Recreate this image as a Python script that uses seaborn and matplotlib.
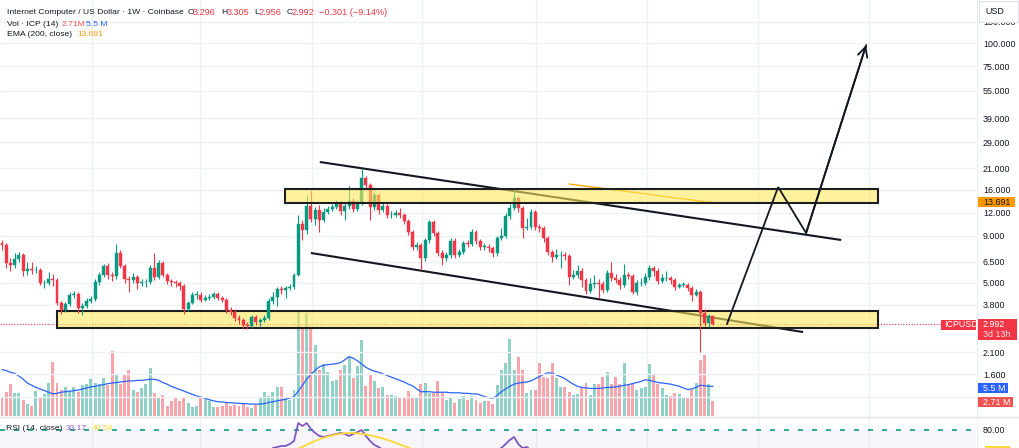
import matplotlib
matplotlib.use("Agg")
import matplotlib.pyplot as plt
import matplotlib.ticker as mticker
from matplotlib.patches import Rectangle
from matplotlib.lines import Line2D
import numpy as np
import pandas as pd
import seaborn as sns

# ICP / USD weekly candles (Coinbase), oldest first
first_open = 8.24
closes = [
    8.03, 6.42, 6.26, 6.75, 7.09, 5.81, 5.96, 5.88, 5.88, 5.00,
    5.00, 5.26, 5.19, 3.89, 3.57, 3.85, 4.31, 4.36, 3.66, 3.75,
    3.99, 4.10, 5.06, 5.53, 6.18, 5.53, 5.46, 7.27, 6.18, 5.26,
    5.19, 5.39, 5.00, 5.06, 5.06, 6.03, 5.39, 6.42, 5.53, 5.13,
    5.06, 5.00, 4.82, 3.61, 3.89, 4.31, 4.31, 4.04, 4.15, 4.20,
    4.36, 4.15, 4.04, 3.57, 3.48, 3.23, 3.15, 2.96, 2.92, 3.27,
    3.07, 3.15, 3.23, 3.99, 4.20, 4.64, 4.58, 4.70, 4.76, 5.53,
    10.44, 9.69, 13.07, 11.11, 12.43, 10.97, 12.13, 12.59, 12.91, 13.57,
    12.28, 13.07, 13.91, 12.59, 13.57, 18.53, 16.98, 12.91, 14.99, 12.43,
    13.07, 11.68, 11.68, 11.98, 11.68, 10.84, 9.45, 7.84, 8.03, 6.83,
    8.55, 10.70, 9.33, 7.27, 6.83, 7.09, 8.44, 7.09, 7.36, 8.24,
    8.13, 9.45, 8.44, 7.84, 7.84, 7.74, 7.27, 8.77, 8.99, 11.54,
    12.75, 14.44, 12.75, 9.93, 10.06, 12.13, 10.06, 9.93, 8.77, 7.36,
    6.92, 7.09, 7.09, 7.00, 5.39, 5.53, 5.81, 5.19, 4.53, 4.94,
    5.00, 4.94, 4.58, 5.67, 5.32, 5.19, 4.88, 5.53, 5.46, 4.47,
    5.00, 5.00, 5.39, 6.03, 5.81, 5.13, 5.32, 5.32, 5.19, 4.76,
    4.88, 4.88, 4.70, 4.31, 4.47, 3.44, 3.03, 3.296, 2.992,
]
highs = [
    8.55, 8.24, 6.83, 7.27, 7.36, 7.27, 6.50, 6.50, 6.18, 6.03,
    5.19, 5.74, 5.60, 5.32, 3.99, 3.94, 4.47, 4.53, 4.47, 3.89,
    4.15, 4.25, 5.26, 5.74, 6.34, 6.42, 5.74, 8.13, 7.55, 6.34,
    5.46, 5.67, 5.53, 5.26, 5.26, 6.26, 7.27, 6.66, 6.58, 5.67,
    5.26, 5.19, 5.13, 4.94, 3.99, 4.47, 4.53, 4.47, 4.31, 4.36,
    4.47, 4.47, 4.25, 4.15, 3.70, 3.61, 3.35, 3.23, 3.07, 3.35,
    3.35, 3.23, 3.35, 4.15, 4.47, 4.76, 4.82, 4.82, 4.94, 5.67,
    11.68, 10.97, 14.99, 15.96, 12.91, 13.23, 12.75, 13.07, 13.40, 14.09,
    13.91, 13.57, 16.77, 14.44, 14.09, 20.74, 19.00, 17.41, 15.56, 15.37,
    13.57, 13.40, 12.28, 12.43, 12.75, 11.98, 11.11, 9.69, 8.34, 8.24,
    8.77, 10.97, 10.97, 9.57, 7.55, 7.36, 8.77, 8.77, 7.64, 8.44,
    8.55, 9.81, 9.69, 8.66, 8.24, 8.13, 7.93, 8.99, 9.93, 11.98,
    13.40, 16.16, 14.81, 13.07, 11.25, 12.59, 12.43, 10.44, 10.18, 8.99,
    7.55, 7.64, 7.45, 7.36, 7.18, 5.88, 6.26, 6.03, 5.32, 5.32,
    5.53, 5.26, 5.13, 5.88, 6.50, 5.60, 5.39, 6.34, 5.74, 5.60,
    5.19, 5.32, 5.67, 6.26, 6.18, 6.03, 5.60, 5.81, 5.46, 5.32,
    5.00, 5.06, 5.00, 4.82, 4.64, 4.58, 3.61, 3.39, 3.305,
]
lows = [
    7.55, 6.03, 5.81, 6.03, 6.50, 5.46, 5.53, 5.60, 5.67, 4.88,
    4.70, 4.88, 4.82, 3.80, 3.39, 3.48, 3.75, 4.15, 3.44, 3.35,
    3.66, 3.89, 3.99, 4.88, 5.39, 5.26, 5.13, 5.26, 6.03, 5.00,
    4.47, 5.00, 4.64, 4.82, 4.76, 4.94, 5.19, 5.26, 5.39, 4.94,
    4.82, 4.76, 4.58, 3.39, 3.52, 3.85, 4.10, 3.94, 3.99, 4.04,
    4.10, 4.04, 3.94, 3.44, 3.35, 3.11, 2.99, 2.85, 2.81, 2.85,
    2.96, 2.88, 3.07, 3.15, 3.85, 3.75, 4.36, 4.15, 4.58, 4.64,
    5.46, 8.55, 9.22, 10.70, 10.31, 9.45, 10.70, 11.83, 12.28, 12.59,
    11.68, 10.97, 12.59, 12.13, 12.28, 13.23, 15.96, 10.97, 12.43, 11.83,
    12.13, 11.25, 11.25, 11.39, 11.25, 10.44, 9.10, 7.55, 7.55, 5.88,
    6.58, 8.24, 8.99, 7.00, 6.26, 6.58, 6.83, 6.83, 6.92, 7.18,
    7.84, 7.93, 8.13, 7.55, 7.55, 7.36, 6.92, 7.00, 8.55, 8.77,
    11.11, 12.43, 12.13, 8.77, 9.69, 9.81, 9.69, 9.45, 8.34, 7.09,
    6.50, 6.75, 6.03, 6.66, 4.88, 5.26, 5.32, 4.76, 4.36, 4.42,
    4.70, 4.15, 4.42, 4.47, 5.13, 5.00, 4.64, 4.76, 5.26, 4.36,
    4.31, 4.82, 4.88, 5.19, 5.46, 4.94, 5.00, 5.13, 4.94, 4.58,
    4.70, 4.76, 4.53, 3.99, 4.25, 2.10, 2.92, 2.88, 2.956,
]
# weekly volume, millions ICP
volumes = [
    3.6, 4.5, 6.0, 4.2, 4.3, 3.0, 2.2, 1.9, 4.7, 3.3,
    4.1, 6.2, 10.0, 6.2, 4.8, 5.4, 4.7, 5.3, 4.5, 5.7,
    6.0, 6.8, 6.2, 6.0, 7.0, 5.7, 12.0, 7.6, 5.9, 7.6,
    8.6, 4.8, 4.5, 5.1, 6.0, 8.8, 4.2, 3.6, 3.9, 1.9,
    2.7, 3.6, 2.7, 3.3, 2.5, 1.6, 1.9, 3.6, 3.3, 2.7,
    1.6, 1.6, 1.9, 2.5, 1.9, 2.0, 1.9, 2.2, 1.6, 1.4,
    2.0, 3.3, 4.4, 3.7, 4.5, 5.4, 5.3, 3.3, 3.0, 4.8,
    19.3, 16.5, 19.0, 16.5, 13.1, 8.5, 9.6, 8.2, 6.5, 6.7,
    8.5, 9.4, 11.0, 7.0, 9.3, 14.0, 5.6, 7.6, 6.4, 5.1,
    5.4, 3.9, 3.9, 3.7, 3.6, 3.6, 4.7, 3.6, 3.3, 6.0,
    6.2, 4.2, 4.2, 6.4, 4.2, 3.0, 3.3, 2.5, 3.1, 3.7,
    3.0, 3.7, 3.0, 2.5, 2.7, 2.8, 2.3, 5.7, 8.5, 9.8,
    14.2, 8.5, 11.0, 8.6, 4.2, 4.9, 4.8, 9.8, 7.3, 7.0,
    9.8, 7.0, 5.3, 5.4, 4.5, 3.9, 4.1, 5.1, 6.2, 3.9,
    6.0, 5.9, 7.3, 8.2, 6.0, 7.3, 6.0, 9.9, 5.7, 6.2,
    4.8, 5.1, 5.3, 9.6, 7.6, 5.9, 5.1, 3.9, 3.7, 4.2,
    4.1, 3.3, 3.3, 4.8, 6.2, 10.4, 11.3, 5.9, 2.71,
]
vol_ma = [
    8.6, 8.4, 8.1, 7.9, 7.4, 6.8, 6.1, 5.7, 5.3, 5.0,
    4.7, 4.4, 4.1, 4.2, 4.4, 4.5, 4.6, 4.7, 4.8, 5.0,
    5.2, 5.4, 5.5, 5.7, 5.8, 6.0, 6.1, 6.2, 6.3, 6.4,
    6.5, 6.5, 6.6, 6.6, 6.7, 6.8, 6.8, 6.6, 6.2, 5.9,
    5.5, 5.2, 4.9, 4.6, 4.3, 4.0, 3.7, 3.5, 3.3, 3.0,
    2.8, 2.65, 2.6, 2.5, 2.45, 2.4, 2.35, 2.3, 2.25, 2.2,
    2.2, 2.2, 2.3, 2.5, 2.65, 2.8, 2.95, 3.1, 3.3, 3.6,
    4.6, 5.7, 6.8, 7.7, 8.5, 9.1, 9.4, 9.5, 9.6, 9.7,
    9.9, 10.4, 11.0, 10.7, 10.2, 9.6, 9.0, 8.6, 8.3, 8.1,
    7.8, 7.5, 7.2, 6.9, 6.6, 6.3, 5.9, 5.6, 5.0, 4.5,
    4.5, 4.5, 4.4, 4.4, 4.4, 4.4, 4.3, 4.3, 4.3, 4.2,
    4.2, 4.1, 4.1, 3.9, 3.6, 3.4, 3.3, 3.8, 4.5, 5.0,
    5.5, 5.9, 6.1, 6.2, 6.3, 6.5, 6.9, 7.3, 7.7, 8.0,
    7.9, 7.6, 7.3, 6.9, 6.4, 5.9, 5.5, 5.3, 5.2, 5.1,
    5.1, 5.1, 5.2, 5.3, 5.3, 5.4, 5.5, 5.7, 5.8, 6.0,
    6.2, 6.4, 6.7, 6.6, 6.4, 6.2, 6.1, 6.0, 5.9, 5.7,
    5.5, 5.2, 4.9, 5.0, 5.3, 5.7, 5.6, 5.5, 5.5,
]

# EMA(200) only visible over the last weeks
ema_start = 134
ema200 = [
    17.20, 17.08, 16.97, 16.85, 16.74, 16.62, 16.51, 16.40, 16.29, 16.18,
    16.07, 15.96, 15.85, 15.74, 15.63, 15.53, 15.42, 15.31, 15.21, 15.10,
    15.00, 14.90, 14.79, 14.69, 14.59, 14.49, 14.39, 14.29, 14.19, 14.09,
    13.99, 13.89, 13.80, 13.74, 13.691,
]

# RSI pane is cropped: only the parts above ~65 are visible
rsi_a_start = 64
rsi_a = [65.0, 65.8, 66.7, 66.7, 68.3, 70.8, 85.8, 83.3, 85.8, 80.8,
         77.5, 75.0, 74.2, 75.0, 75.8, 76.7, 77.5, 76.7, 75.0, 76.7,
         78.3, 80.0, 75.0, 70.8, 67.5, 65.8, 63.3]
rsi_b_start = 117
rsi_b = [63.3, 65.0, 68.3, 71.7, 74.2, 68.3, 65.0, 65.8, 63.3]
rsi_ma_start = 70
rsi_ma = [64.5, 66.0, 67.7, 69.3, 70.8, 72.2, 73.5, 74.6, 75.5, 76.3,
          76.9, 77.3, 77.5, 77.4, 77.2, 76.8, 76.3, 75.6, 74.8, 73.9,
          72.9, 71.8, 70.6, 69.3, 68.0, 66.7, 65.4, 64.0, 62.5]

price_ticks = [130, 100, 75, 55, 39, 29, 21, 16, 12, 9, 6.5, 5, 3.8, 2.1, 1.6, 1.2]
hidden_ticks = [1.2]  # label sits under the volume tag
grid_weeks = [21.3, 46.8, 73.3, 99.2, 126.2, 152.4, 178.6, 204.9]
last_price = 2.992

# drawings: (week start, week end, price low, price high)
zone_top = (66.9, 207.0, 13.55, 16.2)
zone_low = (13.0, 207.0, 2.85, 3.52)
channel_up = [(75.1, 22.64), (198.3, 8.55)]
channel_low = [(73.0, 7.27), (189.3, 2.71)]
path = [(171.3, 2.99), (183.4, 16.56), (190.0, 9.33), (204.2, 97.5)]

# ---------------------------------------------------------------
sns.set_style("white")
plt.rcParams["font.family"] = ["Liberation Sans", "DejaVu Sans"]

W, H = 1019, 448
fig = plt.figure(figsize=(W / 100, H / 100), dpi=100)


def fx(px):
    return px / W


def fy(py):
    return 1 - py / H


df = pd.DataFrame({"close": closes, "high": highs, "low": lows,
                   "volume": volumes, "vol_ma": vol_ma})
df["open"] = [first_open] + closes[:-1]
df["week"] = np.arange(len(df))
df["up"] = df["close"] >= df["open"]

UP, DOWN = "#089981", "#f23645"
TXT = "#131722"
GRID = "#eff1f5"
colors = np.where(df["up"], UP, DOWN)

PANE_R = 976
x_left, x_right = -2 / 4.232, (PANE_R - 2) / 4.232

ax_vol = fig.add_axes([0, fy(416), fx(PANE_R), 416 / H])
ax = fig.add_axes([0, fy(416), fx(PANE_R), 416 / H], sharex=ax_vol)
ax_rsi = fig.add_axes([0, 0, fx(PANE_R), 31 / H], sharex=ax_vol)
ax.patch.set_visible(False)

# volume overlay
ax_vol.bar(df["week"], df["volume"], width=0.7, color=colors, alpha=0.45, linewidth=0)
sns.lineplot(x=df["week"], y=df["vol_ma"], ax=ax_vol, color="#2962ff",
             linewidth=0.9, legend=False)

# candles
body_lo = np.minimum(df["open"], df["close"])
body_h = np.maximum((df["close"] - df["open"]).abs(), body_lo * 0.006)
ax.vlines(df["week"], df["low"], df["high"], colors=colors, linewidth=0.8, zorder=3)
ax.bar(df["week"], body_h, bottom=body_lo, width=0.7, color=colors,
       edgecolor=colors, linewidth=0.3, zorder=4)

ema_weeks = np.arange(ema_start, ema_start + len(ema200))
sns.lineplot(x=ema_weeks, y=ema200, ax=ax, color="#f7a600", linewidth=1.0,
             legend=False, zorder=2)

ax.axhline(last_price, color=DOWN, linewidth=0.8, linestyle=(0, (1, 1.5)), zorder=1.8)

for (x0, p0), (x1, p1) in [channel_up, channel_low]:
    ax.plot([x0, x1], [p0, p1], color=TXT, linewidth=1.5, zorder=2,
            solid_capstyle="butt")

zone_fill = (1.0, 0.914, 0.365, 0.6)
for (x0, x1, p0, p1), z in [(zone_top, 5), (zone_low, 2.5)]:
    ax.add_patch(Rectangle((x0, p0), x1 - x0, p1 - p0, facecolor=zone_fill,
                           edgecolor="#1e1e1e", linewidth=1.5, zorder=z))

px_, pp_ = zip(*path)
ax.plot(px_, pp_, color=TXT, linewidth=1.3, zorder=6, solid_joinstyle="miter")
ax.annotate("", xy=path[3], xytext=path[2], zorder=6,
            arrowprops=dict(arrowstyle="->,head_length=0.7,head_width=0.35",
                            color=TXT, lw=1.3, shrinkA=0, shrinkB=0))

# RSI pane
ax_rsi.axhspan(0, 80, color="#7e57c2", alpha=0.06, linewidth=0)
ax_rsi.axhline(80, color=UP, linewidth=1.2, linestyle=(0, (3, 5.4)))
sns.lineplot(x=np.arange(rsi_a_start, rsi_a_start + len(rsi_a)), y=rsi_a,
             ax=ax_rsi, color="#7e57c2", linewidth=1.3, legend=False)
sns.lineplot(x=np.arange(rsi_b_start, rsi_b_start + len(rsi_b)), y=rsi_b,
             ax=ax_rsi, color="#7e57c2", linewidth=1.3, legend=False)
sns.lineplot(x=np.arange(rsi_ma_start, rsi_ma_start + len(rsi_ma)), y=rsi_ma,
             ax=ax_rsi, color="#fdd835", linewidth=1.3, legend=False)

# axes, scales, grids
ax_vol.set_xlim(x_left, x_right)
ax_vol.set_ylim(0, 416 / 5.4)
ax_vol.set_xticks(grid_weeks)
ax_vol.set_yticks([])
ax_vol.grid(axis="x", color=GRID, linewidth=1)

ax.set_yscale("log")
ax.set_ylim(0.9502, 171.07)
ax.yaxis.set_major_locator(mticker.FixedLocator(price_ticks))
ax.yaxis.set_major_formatter(mticker.FuncFormatter(
    lambda v, _: "" if any(abs(v - h) < 1e-6 for h in hidden_ticks) else f"{v:.3f}"))
ax.yaxis.set_minor_locator(mticker.NullLocator())
ax.yaxis.set_minor_formatter(mticker.NullFormatter())
ax.yaxis.tick_right()
ax.grid(axis="y", color=GRID, linewidth=1)
ax.set_axisbelow(True)

ax_rsi.set_ylim(65, 90.83)
ax_rsi.set_yticks([80])
ax_rsi.yaxis.set_major_formatter(mticker.FuncFormatter(lambda v, _: f"{v:.2f}"))
ax_rsi.yaxis.tick_right()
ax_rsi.grid(axis="x", color=GRID, linewidth=1)

for a in (ax_vol, ax, ax_rsi):
    a.set_xlabel("")
    a.set_ylabel("")
    a.tick_params(axis="x", length=0, labelbottom=False)
    a.tick_params(axis="y", length=0, pad=5, labelsize=6.4, labelcolor=TXT)
    for s in a.spines.values():
        s.set_visible(False)

# pane separators
fig.add_artist(Line2D([0, 1], [fy(416.5)] * 2, color="#e0e3eb", linewidth=1))
fig.add_artist(Line2D([fx(976.5)] * 2, [0, 1], color="#eceef2", linewidth=0.8))


def tag(x0, x1, y0, y1, face, rows, tcolor="white"):
    fig.add_artist(Rectangle((fx(x0), fy(y1)), (x1 - x0) / W, (y1 - y0) / H,
                             transform=fig.transFigure, facecolor=face,
                             edgecolor="none", zorder=10))
    for tx, ty, s, c in rows:
        fig.text(fx(tx), fy(ty), s, fontsize=6.4, color=c or tcolor,
                 ha="left", va="center", zorder=11)


tag(979, 1018, 1, 22, "white", [(985, 11.5, "USD", TXT)])
fig.add_artist(Rectangle((fx(979), fy(22)), 39 / W, 21 / H, transform=fig.transFigure,
                         facecolor="none", edgecolor="#dfe2e8", linewidth=0.8, zorder=10))
tag(978, 1015, 197.5, 207.5, "#ff9800", [(983, 202.5, "13.691", TXT)])
tag(941, 976, 319.5, 329.5, DOWN, [(944, 324.5, "ICPUSD", None)])
tag(978, 1017, 319, 340, DOWN, [(983, 324.3, "2.992", None), (983, 334.3, "3d 13h", "#fde2e4")])
tag(978, 1008, 383, 393, "#2962ff", [(983, 388, "5.5 M", None)])
tag(978, 1013, 397, 407, "#ef5350", [(983, 402, "2.71 M", None)])
tag(985, 1010, 446, 449, "#fdd835", [])

# legend header: (x px, y px, text, colour, size)
FS, FV = 6.1, 6.6
hdr = [
    (7, 12.3, "Internet Computer / US Dollar · 1W · Coinbase", TXT, FS),
    (188, 12.3, "O", TXT, FS), (193, 12.3, "3.296", DOWN, FV),
    (221, 12.3, "H", TXT, FS), (226.5, 12.3, "3.305", DOWN, FV),
    (254, 12.3, "L", TXT, FS), (258.5, 12.3, "2.956", DOWN, FV),
    (286.5, 12.3, "C", TXT, FS), (291.5, 12.3, "2.992", DOWN, FV),
    (319, 12.3, "−0.301 (−9.14%)", DOWN, FV),
    (7, 24, "Vol · ICP (14)", TXT, FS), (62, 24, "2.71M", "#ef5350", FS),
    (85.5, 24, "5.5 M", "#2962ff", FS),
    (7, 34.5, "EMA (200, close)", TXT, FS), (77, 34.5, "13.691", "#ff9800", FS),
    (6, 428, "RSI (14, close)", TXT, FS), (66, 428, "33.17", "#7e57c2", FS),
    (92, 428, "40.58", "#fdd835", FS),
]
for tx, ty, s, c, size in hdr:
    fig.text(fx(tx), fy(ty), s, fontsize=size, color=c, ha="left", va="center", zorder=12)

fig.savefig("out.png", dpi=100, facecolor="white")
